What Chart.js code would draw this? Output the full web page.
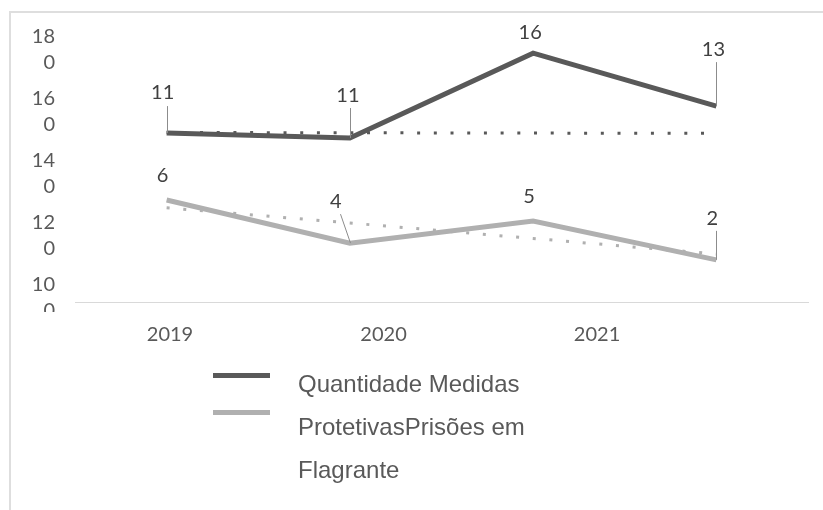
<!DOCTYPE html>
<html>
<head>
<meta charset="utf-8">
<script src="https://cdn.jsdelivr.net/npm/chart.js@4.4.1/dist/chart.umd.min.js"></script>
<style>
  html, body { margin: 0; padding: 0; background: #fff; overflow: hidden; }
  #wrap { position: relative; width: 823px; height: 510px; }
  #frame { position: absolute; left: 9px; top: 11px; width: 830px; height: 520px;
           border-top: 2px solid #dedede; border-left: 2px solid #dedede; box-sizing: border-box; }
  canvas { position: absolute; left: 0; top: 0; }
  #legend { position: absolute; left: 0; top: 0; width: 823px; height: 510px; pointer-events: none;
            font-family: "Liberation Sans", Arial, sans-serif; font-size: 24px; color: #595959; }
  .sw { position: absolute; left: 213px; width: 57px; height: 5px; }
  #legtext { position: absolute; left: 298px; top: 362px; line-height: 43px; white-space: nowrap; }
</style>
</head>
<body>
<div id="wrap">
  <div id="frame"></div>
  <canvas id="c" width="823" height="510"></canvas>
  <div id="legend">
    <div class="sw" style="top:373px;background:#595959"></div>
    <div class="sw" style="top:410px;background:#b0b0b0"></div>
    <div id="legtext">Quantidade Medidas<br>ProtetivasPrisões em<br>Flagrante</div>
  </div>
</div>
<script>
// ---- data ----
const pointSlots = ['1', '2', '3', '4'];
const yearLabels = ['2019', '2020', '2021'];
const yearTicks = [2019, 2020, 2021];
const seriesNames = ['Quantidade Medidas Protetivas', 'Prisões em Flagrante'];
const medidasValues = [153.2, 151.6, 179.0, 161.9];
const prisoesValues = [131.6, 117.7, 124.8, 112.3];
const medidasTrend = [153.4, 153.3, 153.2, 153.1];
const prisoesTrend = [129.1, 124.2, 119.2, 114.2];
const medidasLabels = ['11', '11', '16', '13'];
const prisoesLabels = ['6', '4', '5', '2'];
const yTicks = [100, 120, 140, 160, 180];
const yTickLabels = [['10', '0'], ['12', '0'], ['14', '0'], ['16', '0'], ['18', '0']];

// ---- label placement (styling) ----
const labelStyle = [
  // dataset 0 (dark)
  [{dx: -4, dy: -41, leader: [0, -27]}, {dx: -2, dy: -42, leader: [0, -30]},
   {dx: -3, dy: -21, leader: null}, {dx: -3, dy: -57, leader: [0, -44]}],
  // dataset 1 (light)
  [{dx: -4, dy: -24, leader: null}, {dx: -14, dy: -42, leader: [-10, -29]},
   {dx: -4, dy: -25, leader: null}, {dx: -4, dy: -41, leader: [0, -29]}]
];
const labelTexts = [medidasLabels, prisoesLabels];

const dataLabelPlugin = {
  id: 'dataLabels',
  afterDatasetsDraw(chart) {
    const ctx = chart.ctx;
    ctx.save();
    [0, 1].forEach(di => {
      const meta = chart.getDatasetMeta(di);
      meta.data.forEach((pt, i) => {
        const st = labelStyle[di][i];
        if (st.leader) {
          ctx.strokeStyle = '#8c8c8c';
          ctx.lineWidth = 1;
          ctx.beginPath();
          ctx.moveTo(Math.round(pt.x + st.leader[0]) + 0.5, pt.y + st.leader[1]);
          ctx.lineTo(Math.round(pt.x) + 0.5, pt.y);
          ctx.stroke();
        }
        ctx.fillStyle = '#404040';
        ctx.font = '20px Lato';
        ctx.textAlign = 'center';
        ctx.textBaseline = 'middle';
        ctx.fillText(labelTexts[di][i], pt.x + st.dx, pt.y + st.dy);
      });
    });
    ctx.restore();
  },
  afterDraw(chart) {
    // the lowest y label is cut off in the reference
    const ctx = chart.ctx;
    ctx.save();
    ctx.fillStyle = '#fff';
    ctx.fillRect(12, 312, 60, 30);
    ctx.restore();
  }
};

new Chart(document.getElementById('c'), {
  type: 'line',
  data: {
    labels: pointSlots,
    datasets: [
      { label: seriesNames[0], data: medidasValues, borderColor: '#595959', borderWidth: 5,
        pointRadius: 0, tension: 0, xAxisID: 'x', yAxisID: 'y', order: 0, borderJoinStyle: 'miter' },
      { label: seriesNames[1], data: prisoesValues, borderColor: '#b0b0b0', borderWidth: 5,
        pointRadius: 0, tension: 0, xAxisID: 'x', yAxisID: 'y', order: 1, borderJoinStyle: 'miter' },
      { label: 'trend1', data: medidasTrend, borderColor: '#595959', borderWidth: 3, borderDash: [3, 13.7],
        pointRadius: 0, tension: 0, xAxisID: 'x', yAxisID: 'y', order: 2 },
      { label: 'trend2', data: prisoesTrend, borderColor: '#b0b0b0', borderWidth: 3, borderDash: [3, 13.7],
        pointRadius: 0, tension: 0, xAxisID: 'x', yAxisID: 'y', order: 3 }
    ]
  },
  options: {
    responsive: false,
    animation: false,
    events: [],
    layout: { padding: { left: 10, right: 15, top: 20, bottom: 0 } },
    plugins: { legend: { display: false }, tooltip: { enabled: false } },
    scales: {
      x: { type: 'category', offset: true, display: false },
      years: {
        type: 'linear', position: 'bottom', min: 2018.555, max: 2021.988,
        afterBuildTicks: s => { s.ticks = yearTicks.map(v => ({ value: v })); },
        afterFit: s => { s.height = 208; s.paddingLeft = 0; s.paddingRight = 0; },
        grid: { display: false, drawTicks: false },
        border: { display: true, color: '#d9d9d9', width: 1 },
        ticks: { padding: 21, color: '#595959', font: { family: 'Lato', size: 20 },
                 maxRotation: 0, autoSkip: false,
                 callback: (v, i) => yearLabels[i] }
      },
      y: {
        type: 'linear', min: 98.71, max: 189.68,
        afterBuildTicks: s => { s.ticks = yTicks.map(v => ({ value: v })); },
        afterFit: s => { s.width = 65; s.paddingTop = 0; s.paddingBottom = 0; },
        grid: { display: false, drawTicks: false },
        border: { display: false },
        ticks: { padding: 20, color: '#595959', font: { family: 'Lato', size: 20, lineHeight: 1.3 },
                 autoSkip: false,
                 callback: (v, i) => yTickLabels[i] }
      }
    }
  },
  plugins: [dataLabelPlugin]
});
</script>
</body>
</html>
